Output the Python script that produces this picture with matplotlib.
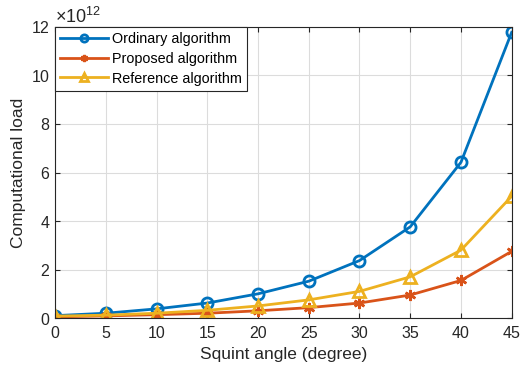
import matplotlib
matplotlib.use('Agg')
import matplotlib.pyplot as plt
from matplotlib.ticker import ScalarFormatter
import numpy as np

plt.rcParams['font.family'] = ['Liberation Sans', 'DejaVu Sans']
plt.rcParams['mathtext.fontset'] = 'custom'
plt.rcParams['mathtext.rm'] = 'Liberation Sans'

# Squint angle (degree) vs computational load
angles = [0, 5, 10, 15, 20, 25, 30, 35, 40, 45]
ordinary = [0.10, 0.20, 0.38, 0.62, 1.00, 1.52, 2.37, 3.76, 6.42, 11.78]
proposed = [0.05, 0.09, 0.14, 0.20, 0.30, 0.43, 0.62, 0.95, 1.55, 2.75]
reference = [0.08, 0.12, 0.20, 0.32, 0.50, 0.75, 1.10, 1.70, 2.80, 5.02]
scale = 1e12

fig = plt.figure(figsize=(5.2, 3.69), dpi=100)
ax = fig.add_axes([0.106, 0.138, 0.878, 0.789])

ax.plot(angles, np.array(ordinary) * scale, '-o', color='#0072BD', lw=2,
        ms=8, mfc='none', mew=2, label='Ordinary algorithm')
ax.plot(angles, np.array(proposed) * scale, '-', marker=(6, 2, 0), color='#D95319',
        lw=2, ms=8, mew=1.8, label='Proposed algorithm')
ax.plot(angles, np.array(reference) * scale, '-^', color='#EDB120', lw=2,
        ms=8, mfc='none', mew=2, label='Reference algorithm')

ax.set_xlim(0, 45)
ax.set_ylim(0, 12e12)
ax.set_xticks(range(0, 46, 5))
ax.set_yticks(np.arange(0, 13, 2) * scale)
fmt = ScalarFormatter(useMathText=True)
fmt.set_powerlimits((12, 12))
ax.yaxis.set_major_formatter(fmt)
ax.grid(True, color='#dcdcdc', lw=0.8)
ax.set_axisbelow(True)
ax.tick_params(direction='in', labelsize=11.5, top=True, right=True,
               color='#262626', labelcolor='#262626')
ax.tick_params(axis='x', pad=6)
for s in ax.spines.values():
    s.set_color('#262626')
    s.set_linewidth(0.8)
ax.yaxis.get_offset_text().set_fontsize(13)
ax.yaxis.get_offset_text().set_color('#262626')
ax.set_xlabel('Squint angle (degree)', fontsize=12.5, color='#262626')
ax.set_ylabel('Computational load', fontsize=12.5, color='#262626')

leg = ax.legend(loc='upper left', fontsize=10.4, fancybox=False, framealpha=1,
                edgecolor='#262626', borderaxespad=0.0, handlelength=3.3,
                handletextpad=0.3, labelspacing=0.4, borderpad=0.35, markerscale=0.65)
leg.get_frame().set_linewidth(0.8)

fig.savefig('out.png', dpi=100)
